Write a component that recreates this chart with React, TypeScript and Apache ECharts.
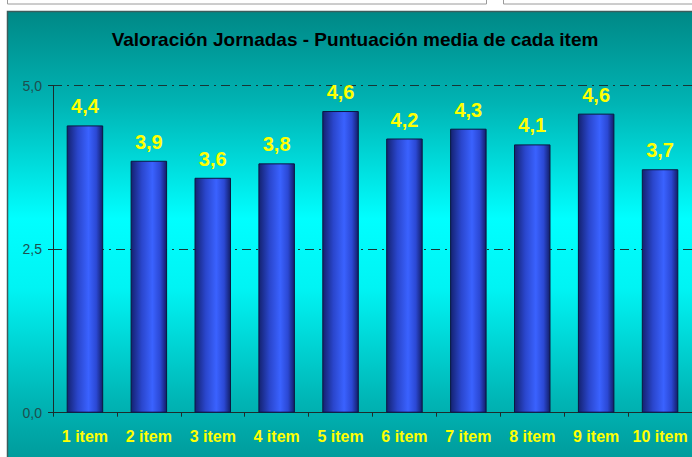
import React, { useEffect, useRef } from "react";
import * as echarts from "echarts";

const categories = ["1 item", "2 item", "3 item", "4 item", "5 item", "6 item", "7 item", "8 item", "9 item", "10 item"];
const values = [4.39, 3.85, 3.59, 3.81, 4.61, 4.19, 4.34, 4.1, 4.57, 3.72];
const yTicks = [0, 2.5, 5];
const titleText = "Valoración Jornadas - Puntuación media de cada item";

const fmt = (v: number) => v.toFixed(1).replace(".", ",");

export default function App() {
  const ref = useRef<HTMLDivElement>(null);
  useEffect(() => {
    if (!ref.current) return;
    const chart = echarts.init(ref.current, null, { renderer: "svg" });
    const font = "Arial, 'Liberation Sans', sans-serif";
    chart.setOption({
      animation: false,
      backgroundColor: "#ffffff",
      graphic: [
        {
          type: "rect",
          z: -10,
          shape: { x: 7.5, y: -10, width: 479, height: 14 },
          style: { fill: "#ffffff", stroke: "#9a9a9a", lineWidth: 1 },
          silent: true,
        },
        {
          type: "rect",
          z: -10,
          shape: { x: 503.5, y: -10, width: 200, height: 14 },
          style: { fill: "#ffffff", stroke: "#9a9a9a", lineWidth: 1 },
          silent: true,
        },
        {
          type: "rect",
          z: -10,
          shape: { x: 7.5, y: 11.5, width: 700, height: 460 },
          style: {
            fill: new echarts.graphic.LinearGradient(0, 0, 0, 1, [
              { offset: 0, color: "#008886" },
              { offset: 0.2, color: "#00b4b4" },
              { offset: 0.45, color: "#00ffff" },
              { offset: 0.6, color: "#00f4f4" },
              { offset: 0.85, color: "#00b4b4" },
              { offset: 1, color: "#009696" },
            ]),
            stroke: "#3d5c5c",
            lineWidth: 1.5,
          },
          silent: true,
        },
        {
          type: "text",
          x: 355,
          y: 39,
          style: {
            text: titleText,
            fill: "#000000",
            font: `bold 19px ${font}`,
            textAlign: "center",
            textVerticalAlign: "middle",
          },
          silent: true,
        },
      ],
      grid: { left: 53, width: 640, top: 85.5, height: 327.2, containLabel: false },
      xAxis: {
        type: "category",
        data: categories,
        axisLine: { show: true, lineStyle: { color: "#1c2c2c", width: 1 } },
        axisTick: { show: true, length: 4, interval: 0, lineStyle: { color: "#1c2c2c" } },
        axisLabel: {
          interval: 0,
          color: "#ffff00",
          fontSize: 16,
          fontWeight: "bold",
          fontFamily: font,
          margin: 16,
        },
        splitLine: { show: false },
      },
      yAxis: {
        type: "value",
        min: 0,
        max: 5,
        interval: 2.5,
        axisLine: { show: true, lineStyle: { color: "#1c2c2c", width: 1 } },
        axisTick: { show: true, length: 5, lineStyle: { color: "#1c2c2c" } },
        axisLabel: {
          color: "#1e4f4f",
          fontSize: 14,
          fontFamily: font,
          margin: 11,
          formatter: (v: number) => (yTicks.includes(v) ? fmt(v) : ""),
        },
        splitLine: {
          show: true,
          lineStyle: { color: "#173535", width: 1, type: [9, 5, 2, 5] },
        },
      },
      series: [
        {
          type: "bar",
          data: values,
          barWidth: 36.5,
          itemStyle: {
            color: new echarts.graphic.LinearGradient(0, 0, 1, 0, [
              { offset: 0, color: "#142270" },
              { offset: 0.3, color: "#2a46cc" },
              { offset: 0.6, color: "#3a62ff" },
              { offset: 0.82, color: "#2b48d4" },
              { offset: 1, color: "#121e68" },
            ]),
            borderColor: "#0c1640",
            borderWidth: 1,
          },
          label: {
            show: true,
            position: "top",
            distance: 9,
            color: "#ffff00",
            fontSize: 20,
            fontWeight: "bold",
            fontFamily: font,
            formatter: (p: any) => fmt(p.value),
          },
        },
      ],
    });
    return () => chart.dispose();
  }, []);
  return <div ref={ref} style={{ width: 692, height: 457, position: "absolute", left: 0, top: 0 }} />;
}
